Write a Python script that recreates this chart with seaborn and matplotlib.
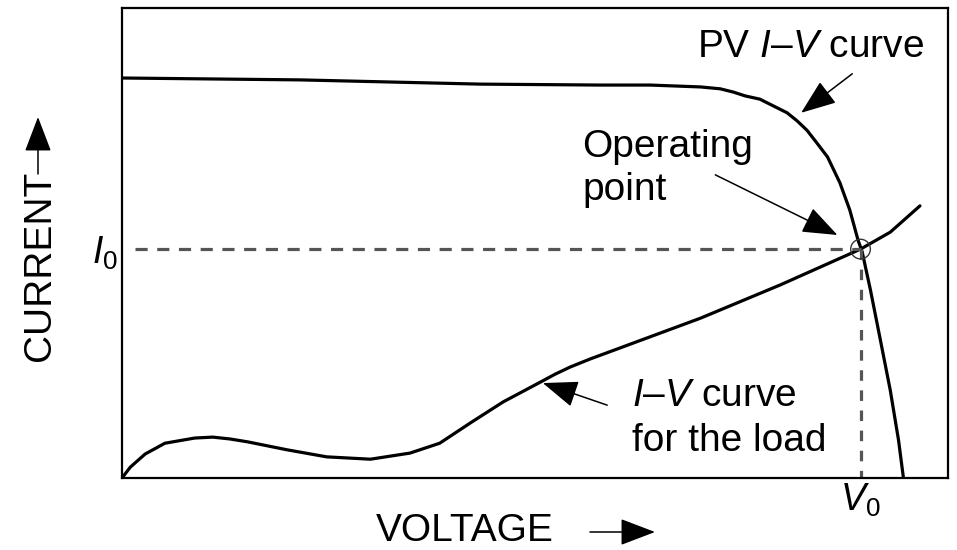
import numpy as np
import pandas as pd
import seaborn as sns
import matplotlib.pyplot as plt

# PV I-V curve (voltage, current) in relative units
pv_v = [0, 21.6, 43.4, 57.9, 64.0, 70.1, 72.5, 74.1, 75.5, 77.3, 80.6, 81.8, 83.0, 84.2, 85.5,
        87.0, 88.2, 89.2, 89.7, 90.7, 91.9, 93.1, 94.1, 94.7]
pv_i = [85.1, 84.7, 83.8, 83.6, 83.6, 83.2, 82.8, 82.1, 81.3, 80.6, 77.7, 76.0, 74.0, 71.3, 68.3,
        62.8, 57.0, 50.6, 48.1, 40.0, 29.4, 18.7, 8.1, 0]

# load I-V curve
load_v = [0, 1.0, 2.8, 5.2, 8.8, 11.0, 13.1, 15.2, 20.0, 24.8, 30.1, 34.9, 38.5, 42.2, 46.2,
          50.7, 52.5, 54.3, 56.7, 60.4, 70.1, 79.8, 89.5, 93.1, 96.7]
load_i = [0, 2.3, 5.1, 7.4, 8.5, 8.7, 8.3, 7.7, 6.0, 4.5, 4.0, 5.3, 7.4, 11.7, 16.2,
          20.4, 22.1, 23.6, 25.3, 27.7, 34.0, 41.1, 48.7, 52.3, 57.9]

# operating point
v0 = 89.5
i0 = 48.7

sns.set_style('white')
plt.rcParams['font.family'] = ['Liberation Sans', 'DejaVu Sans']
plt.rcParams['mathtext.fontset'] = 'custom'
plt.rcParams['mathtext.rm'] = 'Liberation Sans'
plt.rcParams['mathtext.it'] = 'Liberation Sans:italic'
plt.rcParams['text.color'] = 'black'
plt.rcParams['xtick.color'] = 'black'
plt.rcParams['ytick.color'] = 'black'

fig = plt.figure(figsize=(9.57, 5.5), dpi=100)
ax = fig.add_axes([0.1275, 0.1309, 0.8631, 0.8546])

pv = pd.DataFrame({'V': pv_v, 'I': pv_i})
load = pd.DataFrame({'V': load_v, 'I': load_i})
sns.lineplot(data=pv, x='V', y='I', sort=False, color='black', lw=2.3, ax=ax)
sns.lineplot(data=load, x='V', y='I', sort=False, color='black', lw=2.3, ax=ax)

# dashed guides to operating point
ax.plot([1.6, v0], [i0, i0], color='#555555', lw=2.3, ls=(0, (3.8, 3.0)))
ax.plot([v0, v0], [i0, 0], color='#555555', lw=2.3, ls=(0, (3.3, 3.0)))
sns.scatterplot(x=[v0], y=[i0], marker='o', s=200, facecolors='none',
                edgecolors='#333333', linewidth=1.0, ax=ax, zorder=5)

ax.set_xlim(0, 100.1)
ax.set_ylim(0, 100)
ax.set_xticks([v0])
ax.set_xticklabels(['$V_0$'])
ax.set_yticks([i0])
ax.set_yticklabels(['$I_0$'])
ax.tick_params(length=0, labelsize=27, pad=3)
ax.set_xlabel('')
ax.set_ylabel('')
for s in ax.spines.values():
    s.set_visible(True)
    s.set_color('black')
    s.set_linewidth(1.6)

fs = 28
arrow = dict(arrowstyle='-|>,head_length=0.55,head_width=0.21', color='black', lw=1.1,
             mutation_scale=40, shrinkA=0, shrinkB=0)
ax.text(69.7, 89.6, 'PV $I$–$V$ curve', fontsize=fs, ha='left', va='baseline')
ax.annotate('', xy=(82.3, 77.7), xytext=(88.5, 86.0), arrowprops=arrow)
ax.text(55.8, 68.3, 'Operating', fontsize=fs, ha='left', va='baseline')
ax.text(55.8, 59.1, 'point', fontsize=fs, ha='left', va='baseline')
ax.annotate('', xy=(86.7, 51.7), xytext=(71.9, 64.5), arrowprops=arrow)
ax.text(61.8, 15.3, '$I$–$V$ curve', fontsize=fs, ha='left', va='baseline')
ax.text(61.8, 5.7, 'for the load', fontsize=fs, ha='left', va='baseline')
ax.annotate('', xy=(51.0, 20.2), xytext=(58.8, 15.5), arrowprops=arrow)

# axis titles with arrows
fig.text(50 / 957, 1 - 266 / 550, 'CURRENT', rotation=90, rotation_mode='anchor',
         fontsize=fs, ha='center', va='baseline')
fig.add_artist(plt.Annotation('', xy=(38 / 957, 1 - 117 / 550), xytext=(38 / 957, 1 - 174 / 550),
                              xycoords='figure fraction', textcoords='figure fraction', arrowprops=arrow))
fig.text(465 / 957, 1 - 541 / 550, 'VOLTAGE', fontsize=fs, ha='center', va='baseline')
fig.add_artist(plt.Annotation('', xy=(655 / 957, 1 - 532 / 550), xytext=(590 / 957, 1 - 532 / 550),
                              xycoords='figure fraction', textcoords='figure fraction', arrowprops=arrow))

fig.savefig('out.png', dpi=100)
